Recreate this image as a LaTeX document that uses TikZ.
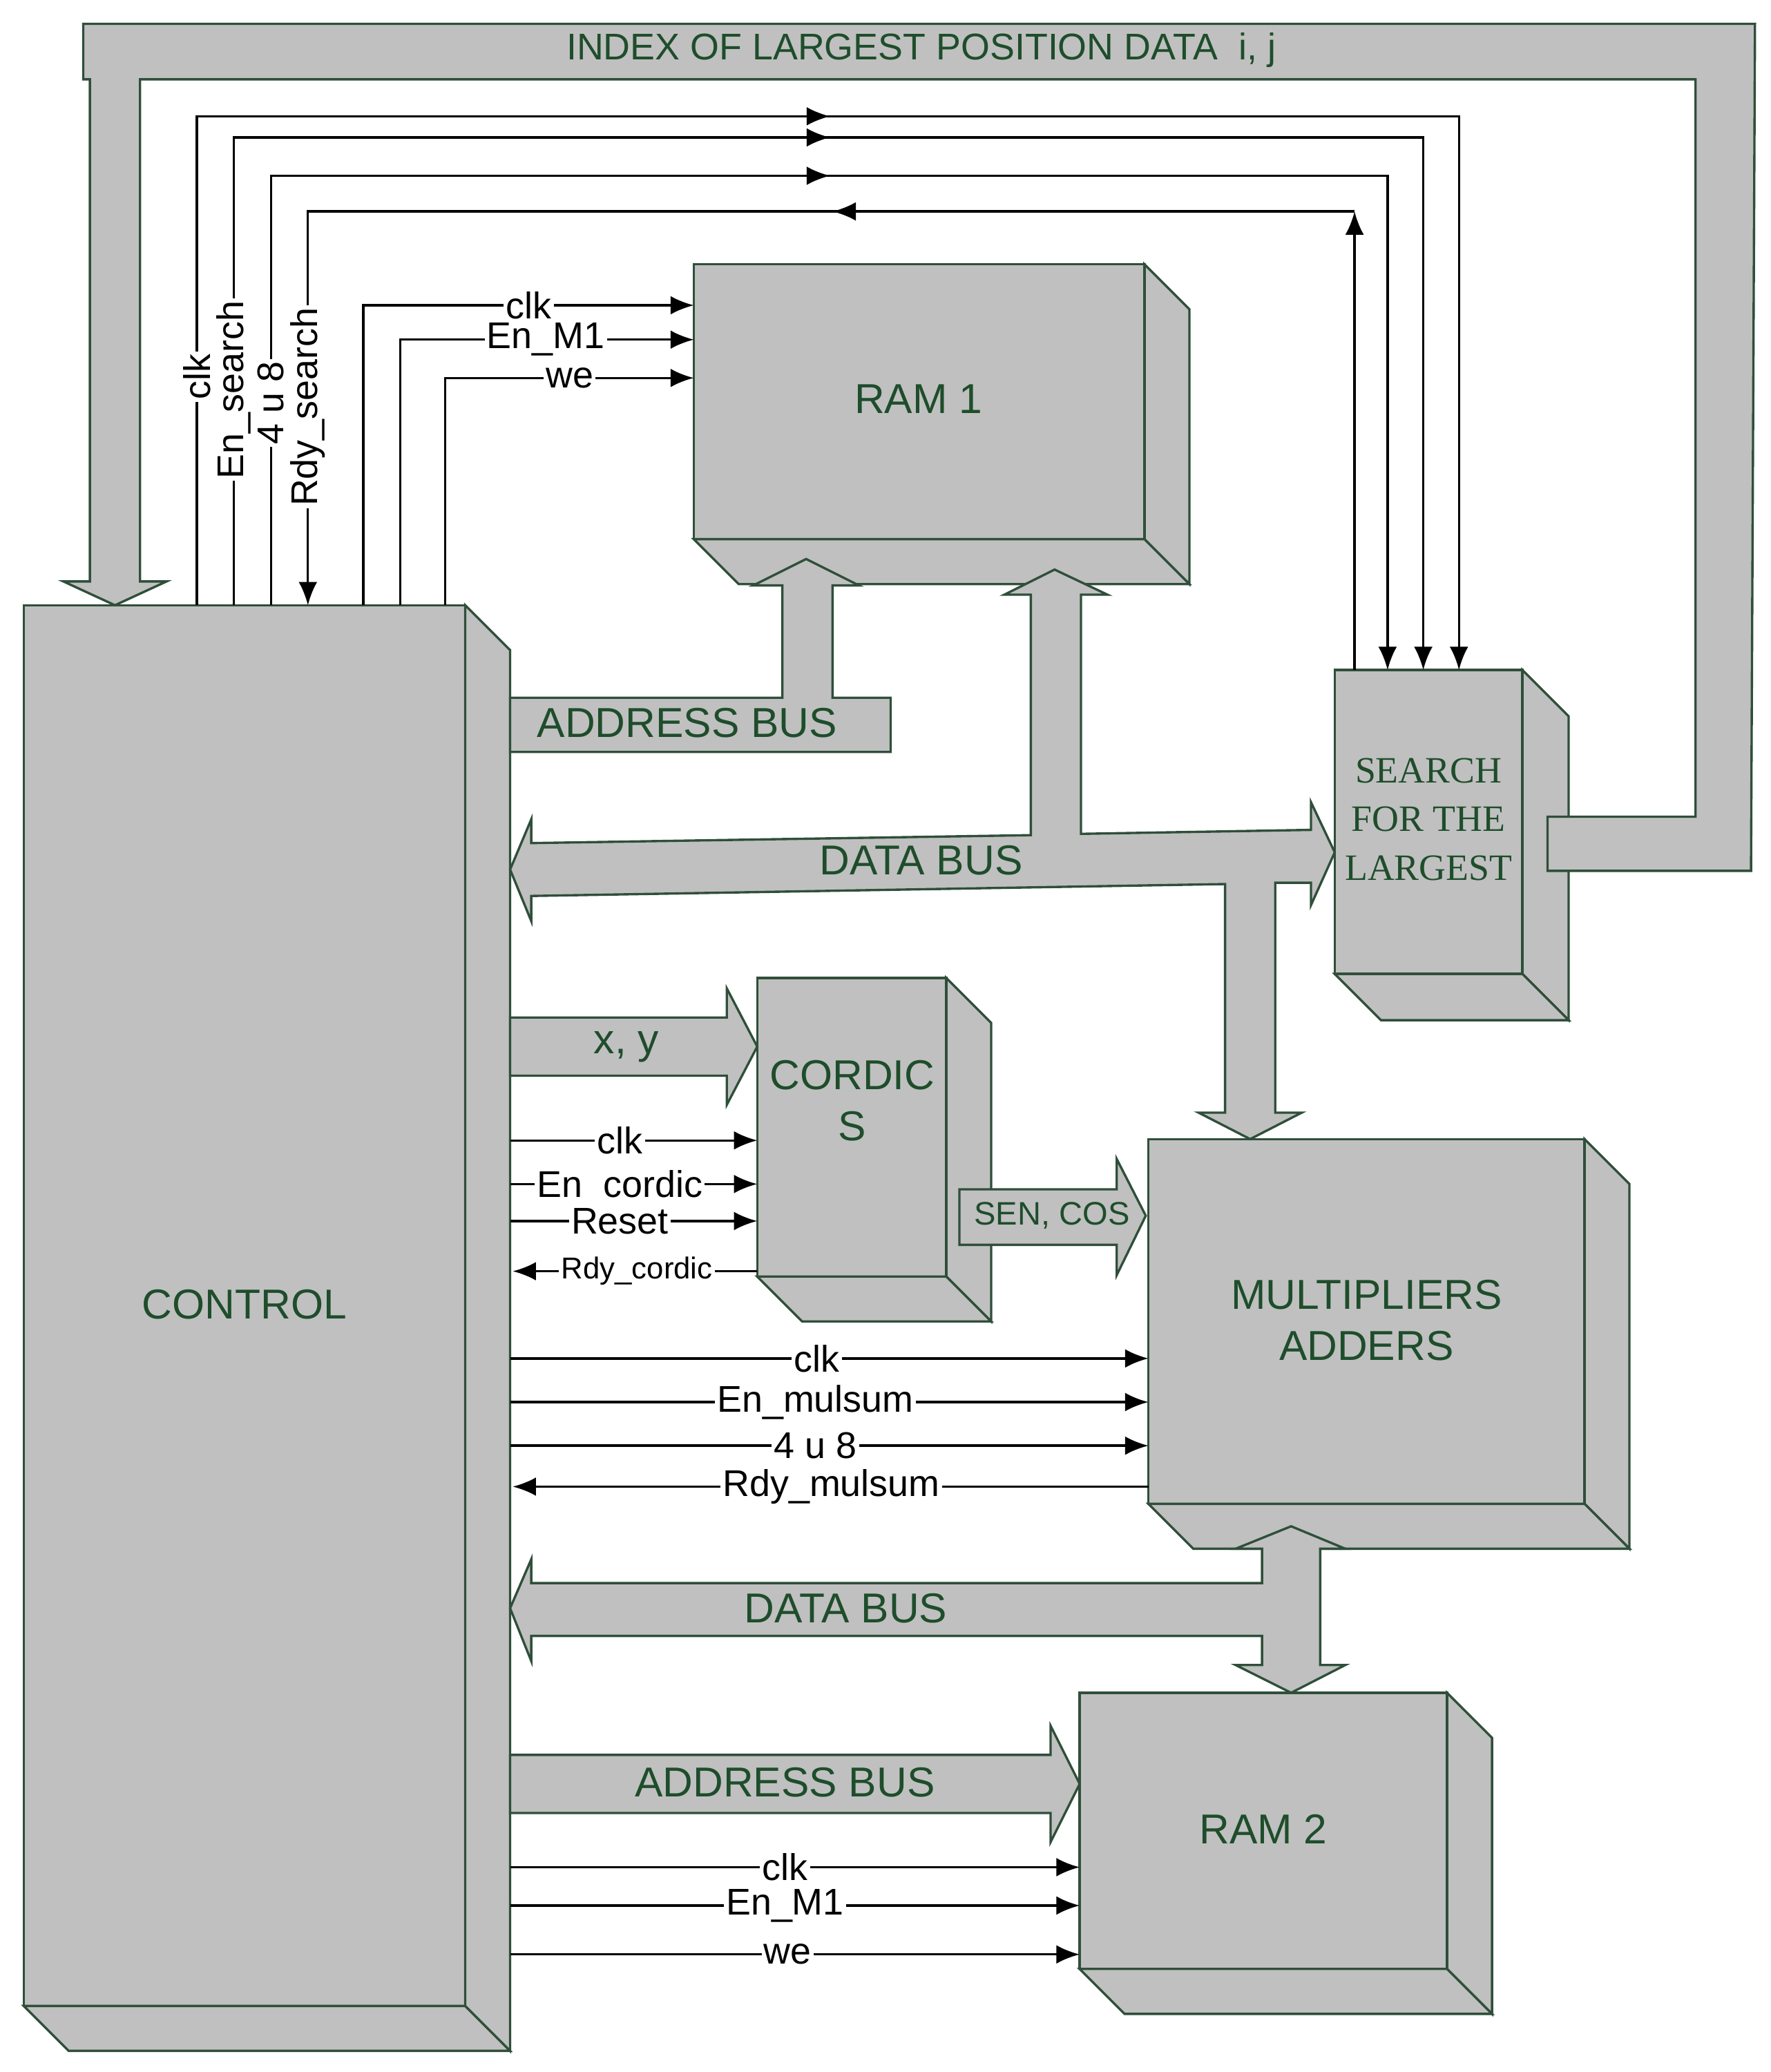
\documentclass[tikz,border=0pt]{standalone}
\usepackage{fontspec}
\setmainfont{Liberation Sans}
\newfontfamily\serifx{Liberation Serif}
\usetikzlibrary{arrows.meta}
\definecolor{bx}{HTML}{C0C0C0}
\definecolor{eg}{HTML}{2F4F3A}
\definecolor{tg}{HTML}{1E4D2B}
\newcommand\mycube[5]{%
 \fill[bx] (#1,#2) rectangle (#3,#4);
 \filldraw[bx,draw=eg,line width=0.5pt] (#3,#2)--(#3+#5,#2+#5)--(#3+#5,#4+#5)--(#3,#4)--cycle;
 \filldraw[bx,draw=eg,line width=0.5pt] (#1,#4)--(#3,#4)--(#3+#5,#4+#5)--(#1+#5,#4+#5)--cycle;
 \draw[eg,line width=0.5pt] (#1,#2) rectangle (#3,#4);}
\tikzset{bus/.style={fill=bx,draw=eg,line width=0.5pt},
 sig/.style={line width=0.5pt,-{Latex[length=5pt,width=4pt]}},
 lab/.style={fill=white,inner sep=0.5pt,font=\fontsize{8}{9}\selectfont},
 blab/.style={text=tg,align=center,font=\fontsize{9}{11}\selectfont}}
\begin{document}
\begin{tikzpicture}[x=0.01cm,y=-0.01cm]
\useasboundingbox (0,0) rectangle (1340,1568);
% boxes
\mycube{18}{458}{352}{1518}{34}
\mycube{525}{200}{866}{408}{34}
\mycube{1010}{507}{1152}{737}{35}
\mycube{573}{740}{716}{966}{34}
\mycube{869}{862}{1199}{1138}{34}
\mycube{817}{1281}{1095}{1490}{34}
\node[blab] (control) at (185,987) {CONTROL};
\node[blab] (ram1) at (695,302) {RAM 1};
\node[blab,font=\serifx\fontsize{8}{10.5}\selectfont] (search) at (1081,620) {SEARCH\\FOR THE\\LARGEST};
\node[blab] (cordic) at (645,833) {CORDIC\\S};
\node[blab] (mult) at (1034,999) {MULTIPLIERS\\ADDERS};
\node[blab] (ram2) at (956,1384) {RAM 2};
% top index bus
\filldraw[bus] (63,18)--(1328,18)--(1325,659)--(1171,659)--(1171,618)--(1283,618)--(1283,60)--(106,60)--(106,440)--(126,440)--(87,458)--(48,440)--(68,440)--(68,60)--(63,60)--cycle;
\node[blab,font=\fontsize{8}{9}\selectfont] at (697,38) {INDEX OF LARGEST POSITION DATA\ \ i, j};
% address bus 1
\filldraw[bus] (386,528)--(592,528)--(592,443)--(570,443)--(610,423)--(650,443)--(630,443)--(630,528)--(674,528)--(674,569)--(386,569)--cycle;
\node[blab] at (520,547) {ADDRESS BUS};
% data bus 1
\filldraw[bus] (386,658)--(402,620)--(402,638)--(780,632)--(780,450)--(760,450)--(798,431)--(838,450)--(818,450)--(818,631)--(992,628)--(992,607)--(1010,645)--(992,685)--(992,668)--(965,668)--(965,842)--(985,842)--(946,862)--(907,842)--(927,842)--(927,669)--(402,678)--(402,697)--cycle;
\node[blab] at (697,651) {DATA BUS};
% x,y
\filldraw[bus] (386,770)--(550,770)--(550,748)--(573,792)--(550,836)--(550,814)--(386,814)--cycle;
\node[blab] at (474,792) {x, y};
% sen cos
\filldraw[bus] (726,900)--(845,900)--(845,877)--(867,920)--(845,965)--(845,942)--(726,942)--cycle;
\node[blab,font=\fontsize{7}{8}\selectfont] at (796,920) {SEN, COS};
% data bus 2
\filldraw[bus] (386,1217)--(402,1180)--(402,1198)--(955,1198)--(955,1172)--(935,1172)--(977,1155)--(1018,1172)--(999,1172)--(999,1260)--(1018,1260)--(977,1281)--(935,1260)--(955,1260)--(955,1238)--(402,1238)--(402,1257)--cycle;
\node[blab] at (640,1217) {DATA BUS};
% address bus 2
\filldraw[bus] (386,1328)--(795,1328)--(795,1306)--(817,1350)--(795,1394)--(795,1372)--(386,1372)--cycle;
\node[blab] at (594,1349) {ADDRESS BUS};
% top signals
\draw[sig] (149,458)--(149,88)--(1104,88)--(1104,507);
\draw[sig] (177,458)--(177,104)--(1077,104)--(1077,507);
\draw[sig] (205,458)--(205,133)--(1050,133)--(1050,507);
\draw[sig] (1025,507)--(1025,160);
\draw[sig] (1025,160)--(233,160)--(233,458);
\foreach \y in {88,104,133} \draw[sig] (600,\y)--(628,\y);
\draw[sig] (660,160)--(630,160);
\node[lab,rotate=90] at (149,285) {clk};
\node[lab,rotate=90] at (177,295) {En\_search};
\node[lab,rotate=90] at (205,305) {4 u 8};
\node[lab,rotate=90] at (233,308) {Rdy\_search};
% ram1 signals
\draw[sig] (275,458)--(275,231)--(525,231);
\draw[sig] (303,458)--(303,257)--(525,257);
\draw[sig] (337,458)--(337,286)--(525,286);
\node[lab] at (400,231) {clk};
\node[lab] at (413,257) {En\_M1};
\node[lab] at (431,286) {we};
% cordic signals
\draw[sig] (386,863)--(573,863); \node[lab] at (469,863) {clk};
\draw[sig] (386,896)--(573,896); \node[lab] at (469,896) {En\ \ cordic};
\draw[sig] (386,924)--(573,924); \node[lab] at (469,924) {Reset};
\draw[sig] (573,962)--(388,962); \node[lab,font=\fontsize{6.5}{7}\selectfont] at (482,962) {Rdy\_cordic};
% mult signals
\draw[sig] (386,1028)--(869,1028); \node[lab] at (618,1028) {clk};
\draw[sig] (386,1061)--(869,1061); \node[lab] at (617,1061) {En\_mulsum};
\draw[sig] (386,1094)--(869,1094); \node[lab] at (617,1094) {4 u 8};
\draw[sig] (869,1125)--(388,1125); \node[lab] at (629,1125) {Rdy\_mulsum};
% ram2 signals
\draw[sig] (386,1413)--(817,1413); \node[lab] at (594,1413) {clk};
\draw[sig] (386,1442)--(817,1442); \node[lab] at (594,1442) {En\_M1};
\draw[sig] (386,1479)--(817,1479); \node[lab] at (596,1479) {we};
\end{tikzpicture}
\end{document}
